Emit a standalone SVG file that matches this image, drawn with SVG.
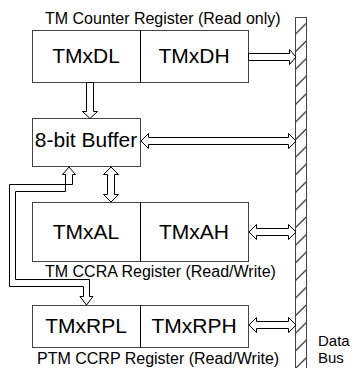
<svg xmlns="http://www.w3.org/2000/svg" width="357" height="368" viewBox="0 0 357 368">
<style>
.box{fill:#fff;stroke:#444;stroke-width:1}
.div{stroke:#000;stroke-width:1}
.arr{fill:#fff;stroke:#000;stroke-width:1;stroke-linejoin:miter}
.reg{font-family:"Liberation Sans",Arial,sans-serif;font-size:21px;fill:#000;text-anchor:middle}
.cap{font-family:"Liberation Sans",Arial,sans-serif;font-size:16px;fill:#000}
.bus{font-family:"Liberation Sans",Arial,sans-serif;font-size:15px;fill:#000}
</style>
<defs>
<pattern id="hatch" patternUnits="userSpaceOnUse" x="295" y="20.5" width="11" height="17.6">
<path d="M0,14 L11,3" stroke="#222" stroke-width="1.2"/>
</pattern>
</defs>
<rect width="357" height="368" fill="#fff"/>
<g id="bus">
<rect x="295.5" y="17.5" width="11" height="360" fill="url(#hatch)" stroke="#444" stroke-width="1"/>
<text class="bus" x="318" y="346">Data</text>
<text class="bus" x="318" y="363">Bus</text>
</g>
<g id="counter">
<text class="cap" x="45" y="24">TM Counter Register (Read only)</text>
<rect class="box" x="32.5" y="30.5" width="216" height="52"/>
<line class="div" x1="140.5" y1="30.5" x2="140.5" y2="82.5"/>
<text class="reg" x="86" y="63">TMxDL</text>
<text class="reg" x="194" y="63">TMxDH</text>
</g>
<g id="buffer">
<rect class="box" x="32.5" y="118.5" width="108" height="48"/>
<text class="reg" x="86" y="147">8-bit Buffer</text>
</g>
<g id="ccra">
<rect class="box" x="32.5" y="202.5" width="216" height="59"/>
<line class="div" x1="140.5" y1="202.5" x2="140.5" y2="261.5"/>
<text class="reg" x="86" y="239">TMxAL</text>
<text class="reg" x="194" y="239">TMxAH</text>
<text class="cap" x="45" y="277">TM CCRA Register (Read/Write)</text>
</g>
<g id="ccrp">
<rect class="box" x="32.5" y="305.5" width="216" height="42"/>
<line class="div" x1="140.5" y1="305.5" x2="140.5" y2="347.5"/>
<text class="reg" x="86" y="333">TMxRPL</text>
<text class="reg" x="194" y="333">TMxRPH</text>
<text class="cap" x="37" y="364">PTM CCRP Register (Read/Write)</text>
</g>
<g id="connectors">
<path class="arr" d="M248.5,53.5 L289.5,53.5 L289.5,49.5 L296,57 L289.5,64.5 L289.5,60.5 L248.5,60.5 Z"/>
<path class="arr" d="M86.5,82.5 L86.5,111.5 L82.5,111.5 L90,118.5 L97.5,111.5 L93.5,111.5 L93.5,82.5 Z"/>
<path class="arr" d="M141,141 L148.5,133.5 L148.5,137.5 L288.5,137.5 L288.5,133.5 L296,141 L288.5,148.5 L288.5,144.5 L148.5,144.5 L148.5,148.5 Z"/>
<path class="arr" d="M111,167 L118.5,174.5 L114.5,174.5 L114.5,194.5 L118.5,194.5 L111,202 L103.5,194.5 L107.5,194.5 L107.5,174.5 L103.5,174.5 Z"/>
<path class="arr" d="M249,232 L256.5,224.5 L256.5,228.5 L288.5,228.5 L288.5,224.5 L296,232 L288.5,239.5 L288.5,235.5 L256.5,235.5 L256.5,239.5 Z"/>
<path class="arr" d="M249,325 L256.5,317.5 L256.5,321.5 L288.5,321.5 L288.5,317.5 L296,325 L288.5,332.5 L288.5,328.5 L256.5,328.5 L256.5,332.5 Z"/>
<path class="arr" d="M69,167 L75.5,174.5 L72.5,174.5 L72.5,184.5 L9.5,184.5 L9.5,286.5 L83.5,286.5 L83.5,296.5 L80,296.5 L86.5,305 L93,296.5 L89.5,296.5 L89.5,279.5 L15.5,279.5 L15.5,191.5 L65.5,191.5 L65.5,174.5 L62.5,174.5 Z"/>
</g>
</svg>
